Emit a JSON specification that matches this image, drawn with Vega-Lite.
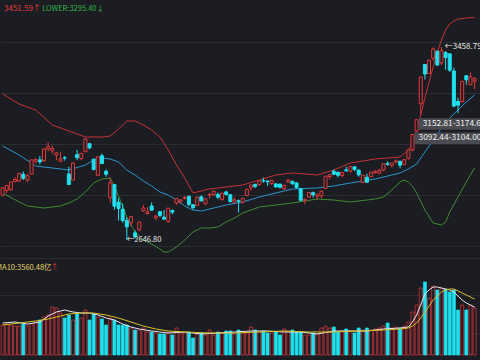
{
  "$schema": "https://vega.github.io/schema/vega-lite/v6.json",
  "background": "#1c1d22",
  "padding": 0,
  "spacing": 0,
  "config": {
    "view": {"stroke": null},
    "axis": {"labels": false, "ticks": false, "domain": false, "title": null, "grid": true, "gridColor": "#2c2d33", "gridWidth": 1},
    "text": {"font": "Noto Sans CJK SC", "fontSize": 7.5}
  },
  "datasets": {
    "k": [
      {"i":0,"o":2836,"h":2869,"l":2831,"c":2866.5,"d":"up","v":3600},
      {"i":1,"o":2856,"h":2876,"l":2845,"c":2876.0,"d":"up","v":3720},
      {"i":2,"o":2859,"h":2891,"l":2853,"c":2890.5,"d":"up","v":3600},
      {"i":3,"o":2893,"h":2910,"l":2889,"c":2901.7,"d":"up","v":3480},
      {"i":4,"o":2895,"h":2926,"l":2891,"c":2926.9,"d":"up","v":3480},
      {"i":5,"o":2923,"h":2935,"l":2899,"c":2906.1,"d":"down","v":3720},
      {"i":6,"o":2899,"h":2926,"l":2890,"c":2917.0,"d":"up","v":3480},
      {"i":7,"o":2924,"h":2983,"l":2923,"c":2983.6,"d":"up","v":3720},
      {"i":8,"o":2978,"h":2990,"l":2970,"c":2985.0,"d":"up","v":3960},
      {"i":9,"o":2984,"h":3000,"l":2965,"c":2975.4,"d":"down","v":4200},
      {"i":10,"o":2981,"h":3031,"l":2975,"c":3030.2,"d":"up","v":4560},
      {"i":11,"o":3030,"h":3058,"l":3020,"c":3039.7,"d":"up","v":4800},
      {"i":12,"o":3022,"h":3045,"l":3010,"c":3031.2,"d":"up","v":5760},
      {"i":13,"o":3004,"h":3016,"l":2983,"c":3013.1,"d":"up","v":5640},
      {"i":14,"o":2978,"h":3018,"l":2975,"c":2987.9,"d":"up","v":5040},
      {"i":15,"o":2993,"h":3000,"l":2981,"c":2991.3,"d":"down","v":4440},
      {"i":16,"o":2925,"h":2955,"l":2878,"c":2880.3,"d":"down","v":4800},
      {"i":17,"o":2899,"h":2973,"l":2899,"c":2970.9,"d":"up","v":4200},
      {"i":18,"o":3006,"h":3026,"l":2983,"c":2992.9,"d":"down","v":4920},
      {"i":19,"o":2989,"h":3011,"l":2982,"c":3011.7,"d":"up","v":4440},
      {"i":20,"o":3018,"h":3074,"l":3017,"c":3071.7,"d":"up","v":5400},
      {"i":21,"o":3052,"h":3052,"l":3028,"c":3034.5,"d":"down","v":4200},
      {"i":22,"o":2987,"h":2989,"l":2940,"c":2943.3,"d":"down","v":4920},
      {"i":23,"o":2919,"h":2998,"l":2918,"c":2996.8,"d":"up","v":4560},
      {"i":24,"o":3001,"h":3010,"l":2967,"c":2968.5,"d":"down","v":4320},
      {"i":25,"o":2936,"h":2944,"l":2913,"c":2923.5,"d":"down","v":3600},
      {"i":26,"o":2825,"h":2910,"l":2804,"c":2887.4,"d":"up","v":4440},
      {"i":27,"o":2880,"h":2880,"l":2774,"c":2789.3,"d":"down","v":4200},
      {"i":28,"o":2806,"h":2822,"l":2729,"c":2779.6,"d":"down","v":3600},
      {"i":29,"o":2776,"h":2800,"l":2720,"c":2728.8,"d":"down","v":3600},
      {"i":30,"o":2729,"h":2742,"l":2646.8,"c":2702.1,"d":"down","v":3600},
      {"i":31,"o":2719,"h":2748,"l":2705,"c":2745.6,"d":"up","v":3240},
      {"i":32,"o":2677,"h":2688,"l":2653,"c":2660.2,"d":"down","v":3000},
      {"i":33,"o":2690,"h":2723,"l":2683,"c":2722.4,"d":"up","v":3000},
      {"i":34,"o":2770,"h":2794,"l":2765,"c":2781.6,"d":"up","v":3240},
      {"i":35,"o":2758,"h":2785,"l":2755,"c":2764.9,"d":"up","v":2760},
      {"i":36,"o":2790,"h":2805,"l":2771,"c":2772.2,"d":"down","v":2760},
      {"i":37,"o":2740,"h":2752,"l":2730,"c":2747.2,"d":"up","v":2640},
      {"i":38,"o":2766,"h":2767,"l":2743,"c":2750.3,"d":"down","v":2520},
      {"i":39,"o":2743,"h":2773,"l":2732,"c":2734.5,"d":"down","v":2520},
      {"i":40,"o":2725,"h":2780,"l":2719,"c":2780.6,"d":"up","v":2760},
      {"i":41,"o":2771,"h":2775,"l":2755,"c":2764.0,"d":"down","v":2400},
      {"i":42,"o":2802,"h":2821,"l":2796,"c":2820.8,"d":"up","v":3240},
      {"i":43,"o":2810,"h":2818,"l":2800,"c":2815.4,"d":"up","v":2640},
      {"i":44,"o":2822,"h":2833,"l":2817,"c":2825.9,"d":"up","v":2640},
      {"i":45,"o":2831,"h":2833,"l":2789,"c":2796.6,"d":"down","v":2760},
      {"i":46,"o":2795,"h":2798,"l":2773,"c":2783.1,"d":"down","v":2040},
      {"i":47,"o":2792,"h":2827,"l":2790,"c":2827.3,"d":"up","v":2520},
      {"i":48,"o":2828,"h":2835,"l":2810,"c":2811.2,"d":"down","v":2640},
      {"i":49,"o":2799,"h":2822,"l":2796,"c":2819.9,"d":"up","v":2400},
      {"i":50,"o":2836,"h":2845,"l":2822,"c":2838.5,"d":"up","v":3000},
      {"i":51,"o":2837,"h":2853,"l":2832,"c":2852.6,"d":"up","v":2400},
      {"i":52,"o":2838,"h":2847,"l":2818,"c":2827.0,"d":"down","v":2760},
      {"i":53,"o":2817,"h":2844,"l":2812,"c":2844.0,"d":"up","v":2640},
      {"i":54,"o":2849,"h":2854,"l":2834,"c":2838.5,"d":"down","v":2880},
      {"i":55,"o":2837,"h":2840,"l":2805,"c":2808.5,"d":"down","v":2880},
      {"i":56,"o":2806,"h":2826,"l":2802,"c":2815.5,"d":"up","v":2520},
      {"i":57,"o":2812,"h":2817,"l":2763,"c":2810.0,"d":"down","v":3000},
      {"i":58,"o":2806,"h":2823,"l":2800,"c":2822.4,"d":"up","v":2640},
      {"i":59,"o":2834,"h":2863,"l":2833,"c":2860.1,"d":"up","v":2640},
      {"i":60,"o":2867,"h":2878,"l":2854,"c":2878.1,"d":"up","v":3360},
      {"i":61,"o":2881,"h":2883,"l":2865,"c":2871.5,"d":"down","v":3000},
      {"i":62,"o":2880,"h":2897,"l":2876,"c":2895.3,"d":"up","v":2760},
      {"i":63,"o":2896,"h":2909,"l":2888,"c":2894.8,"d":"down","v":2880},
      {"i":64,"o":2895,"h":2898,"l":2874,"c":2891.6,"d":"down","v":2640},
      {"i":65,"o":2885,"h":2898,"l":2878,"c":2898.1,"d":"up","v":2640},
      {"i":66,"o":2883,"h":2887,"l":2866,"c":2870.3,"d":"down","v":2760},
      {"i":67,"o":2882,"h":2883,"l":2864,"c":2868.5,"d":"down","v":2400},
      {"i":68,"o":2863,"h":2880,"l":2857,"c":2875.4,"d":"up","v":3120},
      {"i":69,"o":2890,"h":2904,"l":2888,"c":2898.6,"d":"up","v":2880},
      {"i":70,"o":2894,"h":2896,"l":2878,"c":2883.7,"d":"down","v":3000},
      {"i":71,"o":2887,"h":2888,"l":2863,"c":2867.9,"d":"down","v":2760},
      {"i":72,"o":2863,"h":2863,"l":2810,"c":2813.8,"d":"down","v":2760},
      {"i":73,"o":2814,"h":2820,"l":2797,"c":2818.0,"d":"up","v":2400},
      {"i":74,"o":2827,"h":2847,"l":2827,"c":2846.6,"d":"up","v":2400},
      {"i":75,"o":2846,"h":2851,"l":2825,"c":2836.8,"d":"down","v":2640},
      {"i":76,"o":2831,"h":2843,"l":2816,"c":2836.8,"d":"up","v":2520},
      {"i":77,"o":2833,"h":2853,"l":2823,"c":2852.4,"d":"up","v":3240},
      {"i":78,"o":2864,"h":2917,"l":2864,"c":2915.4,"d":"up","v":3480},
      {"i":79,"o":2914,"h":2921,"l":2902,"c":2921.4,"d":"up","v":3240},
      {"i":80,"o":2936,"h":2944,"l":2920,"c":2923.4,"d":"down","v":3360},
      {"i":81,"o":2932,"h":2933,"l":2910,"c":2919.3,"d":"down","v":2760},
      {"i":82,"o":2918,"h":2933,"l":2911,"c":2930.8,"d":"up","v":2880},
      {"i":83,"o":2942,"h":2955,"l":2934,"c":2937.8,"d":"down","v":3120},
      {"i":84,"o":2936,"h":2956,"l":2931,"c":2956.1,"d":"up","v":2880},
      {"i":85,"o":2955,"h":2956,"l":2936,"c":2943.8,"d":"down","v":2640},
      {"i":86,"o":2941,"h":2944,"l":2913,"c":2920.9,"d":"down","v":3240},
      {"i":87,"o":2889,"h":2920,"l":2889,"c":2919.7,"d":"up","v":3000},
      {"i":88,"o":2911,"h":2926,"l":2888,"c":2890.0,"d":"down","v":3240},
      {"i":89,"o":2913,"h":2931,"l":2913,"c":2931.8,"d":"up","v":3000},
      {"i":90,"o":2930,"h":2941,"l":2926,"c":2935.9,"d":"up","v":3120},
      {"i":91,"o":2928,"h":2947,"l":2925,"c":2939.3,"d":"up","v":3240},
      {"i":92,"o":2941,"h":2968,"l":2937,"c":2967.6,"d":"up","v":3480},
      {"i":93,"o":2969,"h":2978,"l":2959,"c":2965.3,"d":"down","v":3840},
      {"i":94,"o":2960,"h":2972,"l":2952,"c":2970.6,"d":"up","v":3240},
      {"i":95,"o":2975,"h":2986,"l":2969,"c":2979.6,"d":"up","v":3360},
      {"i":96,"o":2978,"h":2978,"l":2948,"c":2961.5,"d":"down","v":3240},
      {"i":97,"o":2965,"h":2986,"l":2961,"c":2984.7,"d":"up","v":3480},
      {"i":98,"o":2991,"h":3026,"l":2985,"c":3026.0,"d":"up","v":3960},
      {"i":99,"o":3026,"h":3092.4,"l":3020,"c":3090.6,"d":"up","v":5160},
      {"i":100,"o":3105,"h":3152.8,"l":3104,"c":3152.8,"d":"up","v":6000},
      {"i":101,"o":3220,"h":3333,"l":3174.7,"c":3332.9,"d":"up","v":8040},
      {"i":102,"o":3385,"h":3387,"l":3322,"c":3345.3,"d":"down","v":8760},
      {"i":103,"o":3347,"h":3405,"l":3345,"c":3403.4,"d":"up","v":6840},
      {"i":104,"o":3412,"h":3457,"l":3400,"c":3450.6,"d":"up","v":8280},
      {"i":105,"o":3441,"h":3443,"l":3379,"c":3383.3,"d":"down","v":7800},
      {"i":106,"o":3392,"h":3458.79,"l":3382,"c":3443.3,"d":"up","v":8040},
      {"i":107,"o":3435,"h":3442,"l":3363,"c":3414.6,"d":"down","v":7920},
      {"i":108,"o":3430,"h":3431,"l":3354,"c":3361.3,"d":"down","v":7560},
      {"i":109,"o":3358,"h":3372,"l":3205,"c":3210.1,"d":"down","v":7800},
      {"i":110,"o":3230,"h":3245,"l":3180,"c":3214.1,"d":"down","v":5400},
      {"i":111,"o":3229,"h":3315,"l":3225,"c":3314.2,"d":"up","v":6000},
      {"i":112,"o":3338,"h":3339,"l":3300,"c":3320.9,"d":"down","v":5400},
      {"i":113,"o":3300,"h":3351,"l":3299,"c":3333.2,"d":"up","v":6000},
      {"i":114,"o":3315,"h":3333,"l":3282,"c":3325.1,"d":"up","v":5640}
    ],
    "upper": [
      {"i":0,"p":3261.0},{"i":4,"p":3219.0},{"i":8,"p":3193.7},{"i":12,"p":3130.6},{"i":16,"p":3105.4},
      {"i":20,"p":3080.1},{"i":24,"p":3080.1},{"i":26,"p":3084.3},{"i":28,"p":3113.8},{"i":30,"p":3147.5},
      {"i":32,"p":3147.5},{"i":34,"p":3130.6},{"i":36,"p":3109.6},{"i":38,"p":3080.1},{"i":40,"p":3025.4},
      {"i":42,"p":2962.3},{"i":44,"p":2907.7},{"i":46,"p":2844.5},{"i":47,"p":2848.8},{"i":50,"p":2861.4},
      {"i":54,"p":2869.8},{"i":58,"p":2878.2},{"i":62,"p":2899.2},{"i":66,"p":2920.3},{"i":70,"p":2928.7},
      {"i":76,"p":2920.3},{"i":80,"p":2941.3},{"i":84,"p":2970.8},{"i":90,"p":2987.6},{"i":96,"p":2996.0},
      {"i":98,"p":3025.4},{"i":99,"p":3054.9},{"i":100,"p":3109.6},{"i":101,"p":3172.7},{"i":102,"p":3244.2},
      {"i":103,"p":3311.5},{"i":104,"p":3374.6},{"i":105,"p":3437.7},{"i":106,"p":3488.2},{"i":107,"p":3530.3},
      {"i":108,"p":3555.5},{"i":109,"p":3568.2},{"i":110,"p":3576.6},{"i":112,"p":3580.8},{"i":114,"p":3582.9}
    ],
    "mid": [
      {"i":0,"p":3042.3},{"i":4,"p":3004.4},{"i":8,"p":2958.1},{"i":12,"p":2949.7},{"i":16,"p":2941.3},
      {"i":20,"p":2962.3},{"i":22,"p":2983.4},{"i":24,"p":2991.8},{"i":26,"p":2987.6},{"i":28,"p":2975.0},
      {"i":30,"p":2941.3},{"i":32,"p":2920.3},{"i":34,"p":2895.0},{"i":36,"p":2874.0},{"i":38,"p":2848.8},
      {"i":40,"p":2836.1},{"i":42,"p":2815.1},{"i":44,"p":2789.9},{"i":46,"p":2773.0},{"i":48,"p":2768.8},
      {"i":50,"p":2777.2},{"i":54,"p":2794.1},{"i":58,"p":2806.7},{"i":62,"p":2827.7},{"i":66,"p":2844.5},
      {"i":70,"p":2861.4},{"i":76,"p":2865.6},{"i":80,"p":2874.0},{"i":84,"p":2886.6},{"i":90,"p":2903.4},
      {"i":94,"p":2920.3},{"i":96,"p":2928.7},{"i":98,"p":2945.5},{"i":100,"p":2966.5},{"i":102,"p":3017.0},
      {"i":104,"p":3067.5},{"i":106,"p":3118.0},{"i":108,"p":3160.1},{"i":110,"p":3193.7},{"i":112,"p":3227.4},
      {"i":114,"p":3256.8}
    ],
    "lower": [
      {"i":0,"p":2844.5},{"i":4,"p":2806.7},{"i":6,"p":2789.9},{"i":10,"p":2781.4},{"i":14,"p":2789.9},
      {"i":16,"p":2802.5},{"i":18,"p":2819.3},{"i":20,"p":2848.8},{"i":22,"p":2886.6},{"i":24,"p":2903.4},
      {"i":26,"p":2907.7},{"i":27,"p":2874.0},{"i":28,"p":2832.0},{"i":30,"p":2743.6},{"i":32,"p":2680.5},
      {"i":34,"p":2646.8},{"i":36,"p":2630.0},{"i":38,"p":2608.9},{"i":39,"p":2596.3},{"i":40,"p":2596.3},
      {"i":42,"p":2617.4},{"i":44,"p":2646.8},{"i":46,"p":2680.5},{"i":48,"p":2697.3},{"i":50,"p":2697.3},
      {"i":52,"p":2701.5},{"i":54,"p":2722.6},{"i":56,"p":2739.4},{"i":58,"p":2760.4},{"i":60,"p":2773.0},
      {"i":62,"p":2785.7},{"i":66,"p":2794.1},{"i":70,"p":2802.5},{"i":76,"p":2819.3},{"i":80,"p":2815.1},
      {"i":84,"p":2806.7},{"i":88,"p":2815.1},{"i":90,"p":2819.3},{"i":92,"p":2827.7},{"i":94,"p":2857.2},
      {"i":96,"p":2890.8},{"i":97,"p":2899.2},{"i":98,"p":2890.8},{"i":99,"p":2874.0},{"i":100,"p":2844.5},
      {"i":102,"p":2773.0},{"i":104,"p":2718.3},{"i":106,"p":2709.9},{"i":107,"p":2722.6},{"i":108,"p":2764.6},
      {"i":110,"p":2827.7},{"i":112,"p":2890.8},{"i":114,"p":2949.7}
    ],
    "ma5": [
      {"i":0,"v":3840},{"i":3,"v":3960},{"i":6,"v":3720},{"i":9,"v":3960},{"i":11,"v":4680},{"i":13,"v":5160},
      {"i":15,"v":5400},{"i":17,"v":5160},{"i":19,"v":5040},{"i":21,"v":5040},{"i":23,"v":4800},{"i":25,"v":4440},
      {"i":27,"v":4200},{"i":29,"v":3720},{"i":31,"v":3360},{"i":33,"v":3120},{"i":36,"v":2880},{"i":40,"v":2640},
      {"i":44,"v":2760},{"i":48,"v":2520},{"i":52,"v":2640},{"i":56,"v":2760},{"i":60,"v":2880},{"i":64,"v":2880},
      {"i":68,"v":2760},{"i":72,"v":2760},{"i":76,"v":2520},{"i":80,"v":2880},{"i":84,"v":2880},{"i":88,"v":2880},
      {"i":92,"v":3120},{"i":96,"v":3240},{"i":98,"v":3360},{"i":99,"v":3960},{"i":100,"v":4800},{"i":101,"v":6000},
      {"i":102,"v":7320},{"i":103,"v":7800},{"i":104,"v":8160},{"i":105,"v":8160},{"i":106,"v":8040},{"i":107,"v":7920},
      {"i":108,"v":7800},{"i":109,"v":7560},{"i":110,"v":7080},{"i":111,"v":6600},{"i":112,"v":6240},{"i":113,"v":6000},
      {"i":114,"v":5760}
    ],
    "ma10": [
      {"i":0,"v":3600},{"i":4,"v":3840},{"i":8,"v":4080},{"i":11,"v":4320},{"i":14,"v":4680},{"i":16,"v":4920},
      {"i":19,"v":5040},{"i":22,"v":5040},{"i":25,"v":4800},{"i":28,"v":4440},{"i":31,"v":3960},{"i":34,"v":3480},
      {"i":37,"v":3120},{"i":40,"v":2880},{"i":44,"v":2760},{"i":50,"v":2640},{"i":56,"v":2640},{"i":62,"v":2760},
      {"i":68,"v":2880},{"i":74,"v":2760},{"i":80,"v":2760},{"i":86,"v":2880},{"i":92,"v":3000},{"i":96,"v":3120},
      {"i":98,"v":3240},{"i":99,"v":3480},{"i":100,"v":3840},{"i":101,"v":4440},{"i":102,"v":5160},{"i":103,"v":5880},
      {"i":104,"v":6600},{"i":105,"v":7080},{"i":106,"v":7560},{"i":107,"v":7800},{"i":108,"v":7920},{"i":109,"v":7920},
      {"i":110,"v":7680},{"i":111,"v":7440},{"i":112,"v":7200},{"i":113,"v":6960},{"i":114,"v":6720}
    ],
    "gaps": [
      {"start":101,"lo":3152.81,"label":"3152.81-3174.65"},
      {"start":100,"lo":3092.44,"label":"3092.44-3104.00"}
    ]
  },
  "vconcat": [
    {
      "width": 480,
      "height": 257,
      "encoding": {
        "x": {"type": "quantitative", "scale": {"domain": [0.58, 114.1], "nice": false, "zero": false}, "axis": null}
      },
      "layer": [
        {
          "data": {"name": "upper"},
          "mark": {"type": "line", "color": "#c23336", "strokeWidth": 1, "clip": true},
          "encoding": {
            "x": {"field": "i", "type": "quantitative"},
            "y": {"field": "p", "type": "quantitative", "scale": {"domain": [2575.3, 3656.5], "nice": false, "zero": false},
                  "axis": {"values": [3587.1, 3479.8, 3372.5, 3265.2, 3158.0, 3050.7, 2943.4, 2836.1, 2728.9, 2621.6]}}
          }
        },
        {
          "data": {"name": "mid"},
          "mark": {"type": "line", "color": "#2a95cc", "strokeWidth": 1, "clip": true},
          "encoding": {"x": {"field": "i", "type": "quantitative"}, "y": {"field": "p", "type": "quantitative"}}
        },
        {
          "data": {"name": "lower"},
          "mark": {"type": "line", "color": "#3f8a34", "strokeWidth": 1, "clip": true},
          "encoding": {"x": {"field": "i", "type": "quantitative"}, "y": {"field": "p", "type": "quantitative"}}
        },
        {
          "data": {"name": "k"},
          "mark": {"type": "rule", "strokeWidth": 1, "clip": true},
          "encoding": {
            "x": {"field": "i", "type": "quantitative"},
            "y": {"field": "l", "type": "quantitative"},
            "y2": {"field": "h"},
            "color": {"field": "d", "type": "nominal", "scale": {"domain": ["up", "down"], "range": ["#e23a3d", "#1fe0ee"]}, "legend": null}
          }
        },
        {
          "data": {"name": "k"},
          "mark": {"type": "bar", "size": 3, "strokeWidth": 1, "clip": true},
          "encoding": {
            "x": {"field": "i", "type": "quantitative"},
            "y": {"field": "o", "type": "quantitative"},
            "y2": {"field": "c"},
            "fill": {"field": "d", "type": "nominal", "scale": {"domain": ["up", "down"], "range": ["#1c1d22", "#1fe0ee"]}, "legend": null},
            "stroke": {"field": "d", "type": "nominal", "scale": {"domain": ["up", "down"], "range": ["#e23a3d", "#1fe0ee"]}, "legend": null}
          }
        },
        {
          "data": {"name": "gaps"},
          "mark": {"type": "rect", "color": "#4a4b51", "yOffset": -1.5, "y2Offset": 10, "xOffset": -2, "clip": true},
          "encoding": {
            "x": {"field": "start", "type": "quantitative"},
            "x2": {"datum": 120},
            "y": {"field": "lo", "type": "quantitative"},
            "y2": {"field": "lo"}
          }
        },
        {
          "data": {"name": "gaps"},
          "mark": {"type": "text", "color": "#f0f0f0", "align": "left", "baseline": "middle", "dx": 2, "dy": 4, "fontSize": 8.3, "clip": true},
          "encoding": {
            "x": {"field": "start", "type": "quantitative"},
            "y": {"field": "lo", "type": "quantitative"},
            "text": {"field": "label"}
          }
        },
        {
          "data": {"values": [{}]},
          "mark": {"type": "text", "color": "#e8e8e8", "align": "left", "baseline": "middle", "dx": 0, "clip": true},
          "encoding": {"x": {"datum": 30}, "y": {"datum": 2646.8}, "text": {"value": "←2646.80"}}
        },
        {
          "data": {"values": [{}]},
          "mark": {"type": "text", "color": "#e8e8e8", "align": "left", "baseline": "middle", "dx": 2, "fontSize": 8, "clip": true},
          "encoding": {"x": {"datum": 106.3}, "y": {"datum": 3458.79}, "text": {"value": "←3458.79"}}
        },
        {
          "data": {"values": [{}]},
          "mark": {"type": "text", "color": "#e0393b", "align": "left", "baseline": "middle", "dx": -1, "fontSize": 8, "clip": true},
          "encoding": {"x": {"datum": 0.58}, "y": {"datum": 3618.6}, "text": {"value": "3451.59↑"}}
        },
        {
          "data": {"values": [{}]},
          "mark": {"type": "text", "color": "#33b44a", "align": "left", "baseline": "middle", "clip": true},
          "encoding": {"x": {"datum": 9.56}, "y": {"datum": 3618.6}, "text": {"value": "LOWER:3295.40↓"}}
        }
      ]
    },
    {
      "width": 480,
      "height": 103,
      "encoding": {
        "x": {"type": "quantitative", "scale": {"domain": [0.58, 114.1], "nice": false, "zero": false}, "axis": null}
      },
      "layer": [
        {
          "data": {"name": "k"},
          "mark": {"type": "bar", "size": 3, "strokeWidth": 0.7, "clip": true},
          "encoding": {
            "x": {"field": "i", "type": "quantitative"},
            "y": {"field": "v", "type": "quantitative", "scale": {"domain": [-600, 11760], "nice": false, "zero": false},
                  "axis": {"values": [11640, 9420, 7200, 4920, 2640]}},
            "fill": {"field": "d", "type": "nominal", "scale": {"domain": ["up", "down"], "range": ["#6c2226", "#1fe0ee"]}, "legend": null},
            "stroke": {"field": "d", "type": "nominal", "scale": {"domain": ["up", "down"], "range": ["#a8302f", "#1fe0ee"]}, "legend": null}
          }
        },
        {
          "data": {"name": "ma5"},
          "mark": {"type": "line", "color": "#e6e6ee", "strokeWidth": 1, "clip": true},
          "encoding": {"x": {"field": "i", "type": "quantitative"}, "y": {"field": "v", "type": "quantitative"}}
        },
        {
          "data": {"name": "ma10"},
          "mark": {"type": "line", "color": "#d8c02c", "strokeWidth": 1, "clip": true},
          "encoding": {"x": {"field": "i", "type": "quantitative"}, "y": {"field": "v", "type": "quantitative"}}
        },
        {
          "data": {"values": [{}]},
          "mark": {"type": "text", "color": "#e2d46a", "align": "left", "baseline": "middle", "dx": -9, "clip": true},
          "encoding": {"x": {"datum": 0.58}, "y": {"datum": 10440}, "text": {"value": "MA10:3560.48亿"}}
        },
        {
          "data": {"values": [{}]},
          "mark": {"type": "text", "color": "#e0393b", "align": "left", "baseline": "middle", "clip": true},
          "encoding": {"x": {"datum": 11.6}, "y": {"datum": 10440}, "text": {"value": "↑"}}
        }
      ]
    }
  ]
}
